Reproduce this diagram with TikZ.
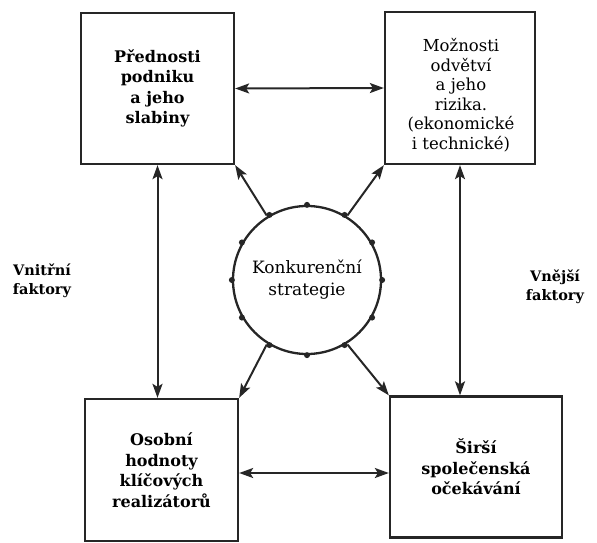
\documentclass[tikz,border=0pt]{standalone}
\usepackage{fontspec}
\setmainfont{DejaVu Serif}
\usetikzlibrary{arrows.meta,calc}
\begin{document}
\begin{tikzpicture}[x=1pt,y=-1pt,
  box/.style={draw=black!85,line width=2.3pt,align=center,inner sep=0pt},
  txt/.style={font=\fontsize{16.5}{19.5}\selectfont,align=center},
  btxt/.style={font=\fontsize{16}{20.5}\selectfont\bfseries},
  side/.style={font=\fontsize{14.5}{19}\selectfont\bfseries,align=center},
  tip/.tip={Stealth[length=14pt,width=10pt,inset=3pt]},
  dbl/.style={tip-tip,line width=2pt,draw=black!85},
  sgl/.style={-tip,line width=2pt,draw=black!85},
  dot/.style={circle,fill=black!85,inner sep=0pt,minimum size=6pt}]
\useasboundingbox (0,0) rectangle (597,543);
\node[box,btxt,minimum width=153pt,minimum height=151pt] (tl) at (157.5,88.5) {Přednosti\\podniku\\a jeho\\slabiny};
\node[box,minimum width=150pt,minimum height=152pt] (tr) at (460,88) {};
\node[txt] (trt) at (461,95) {Možnosti\\odvětví\\a jeho\\rizika.\\(ekonomické\\i technické)};
\node[box,btxt,minimum width=153pt,minimum height=142pt] (bl) at (161.5,470) {Osobní\\hodnoty\\klíčových\\realizátorů};
\node[box,btxt,minimum width=172pt,minimum height=141pt] (br) at (476,467) {Širší\\společenská\\očekávání};
\node[circle,draw=black!85,line width=2.3pt,minimum size=148pt,align=center,font=\fontsize{17}{22}\selectfont] (c) at (307,280) {Konkurenční\\strategie};
\foreach \a in {0,30,...,330} \node[dot] (d\a) at (c.\a) {};
\node[side] (vn) at (42,281) {Vnitřní\\faktory};
\node[side] (ve) at (555,287) {Vnější\\faktory};
\draw[dbl] (tl.east) -- (tr.west);
\draw[dbl] ([yshift=-3pt]bl.east) -- ([yshift=-3pt]bl.east -| br.west);
\draw[dbl] (tl.south) -- (tl.south |- bl.north);
\draw[dbl] (tr.south) -- (tr.south |- br.north);
\draw[sgl,shorten <=1pt] (c.122) -- (tl.south east);
\draw[sgl,shorten <=1pt] (c.58) -- (tr.south west);
\draw[sgl,shorten <=1pt] (c.238) -- (bl.north east);
\draw[sgl,shorten <=1pt] (c.302) -- (br.north west);
\end{tikzpicture}
\end{document}
